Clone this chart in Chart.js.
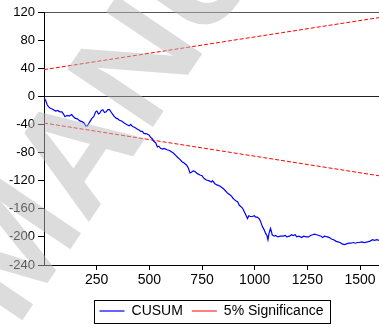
<!DOCTYPE html>
<html>
<head>
<meta charset="utf-8">
<script src="https://cdn.jsdelivr.net/npm/chart.js@4.4.0/dist/chart.umd.min.js"></script>
<style>
  html, body { margin: 0; padding: 0; background: #fff; }
</style>
</head>
<body>
<canvas id="cusumChart" width="379" height="327"></canvas>
<script>
const obs = [0, 8, 15, 22, 30, 38, 45, 55, 65, 75, 85, 92, 100, 110, 120, 131, 140, 147, 158, 170,
  180, 190, 198, 205, 212, 220, 228, 236, 245, 251, 258, 264, 272, 279, 287, 295, 303, 311, 320, 327,
  334, 342, 350, 358, 368, 381, 392, 404, 412, 420, 430, 440, 451, 460, 467, 475, 485, 498, 508, 513,
  521, 530, 538, 545, 553, 562, 570, 584, 595, 605, 615, 625, 635, 646, 655, 665, 677, 685, 693, 700,
  708, 717, 728, 740, 750, 760, 771, 782, 795, 800, 810, 820, 830, 841, 850, 860, 872, 882, 890, 897,
  904, 912, 919, 927, 935, 942, 950, 958, 966, 972, 980, 989, 998, 1005, 1012, 1021, 1028, 1036, 1045, 1052,
  1058, 1063, 1068, 1075, 1080, 1083, 1092, 1100, 1110, 1122, 1135, 1145, 1153, 1165, 1175, 1182, 1192, 1200, 1210, 1223,
  1232, 1245, 1255, 1265, 1275, 1285, 1294, 1305, 1315, 1322, 1332, 1345, 1355, 1364, 1375, 1385, 1395, 1405, 1415, 1426,
  1436, 1447, 1457, 1468, 1478, 1488, 1496, 1508, 1520, 1535, 1548, 1559, 1568, 1580, 1590];
const cusum = [-2, -6, -12, -15, -17, -18, -19, -21, -20, -22, -22, -25, -29, -27, -28, -26, -29, -31, -32, -35,
  -36, -38, -42, -42, -39, -35, -31, -29, -22, -21, -25, -24, -20, -19, -23, -22, -19, -19, -23, -26,
  -29, -31, -32, -34, -35, -38, -40, -42, -40, -43, -44, -46, -48, -50, -50, -53, -53, -55, -59, -60,
  -64, -66, -72, -71, -74, -75, -74, -76, -77, -79, -81, -84, -87, -90, -93, -95, -98, -102, -109, -108,
  -106, -107, -110, -112, -113, -117, -119, -120, -122, -120, -124, -126, -127, -129, -131, -134, -138, -140, -142, -145,
  -147, -149, -150, -155, -157, -159, -164, -169, -174, -170, -171, -171, -170, -172, -172, -174, -178, -185, -190, -195,
  -198, -204, -195, -188, -193, -197, -199, -198, -200, -199, -199, -198, -200, -199, -197, -198, -197, -200, -199, -201,
  -199, -200, -200, -198, -197, -196, -197, -198, -199, -201, -199, -200, -201, -203, -204, -206, -207, -208, -210, -211,
  -210, -209, -209, -208, -209, -208, -208, -207, -208, -207, -206, -204, -205, -204, -205];

// 5% significance bounds (straight lines, two ends)
const sigObs = [0, 1590];
const sigUpper = [38, 112];
const sigLower = [-38, -113];

const xTicks = [250, 500, 750, 1000, 1250, 1500];
const yTicks = [-240, -200, -160, -120, -80, -40, 0, 40, 80, 120];

const toPoints = (xs, ys) => xs.map((x, i) => ({x: x, y: ys[i]}));

// border round the legend
const legendBox = {
  id: 'legendBox',
  afterDraw(chart) {
    const hb = chart.legend.legendHitBoxes;
    if (!hb || !hb.length) return;
    const ctx = chart.ctx;
    const left = Math.min(...hb.map(b => b.left)) - 6;
    const right = Math.max(...hb.map(b => b.left + b.width)) + 6;
    const mid = hb[0].top + hb[0].height / 2;
    ctx.save();
    ctx.strokeStyle = '#000';
    ctx.lineWidth = 1;
    ctx.strokeRect(Math.round(left) + 0.5, Math.round(mid - 11.5) + 0.5, Math.round(right - left), 23);
    ctx.restore();
  }
};

// faint diagonal watermark
const watermark = {
  id: 'watermark',
  afterDraw(chart) {
    const ctx = chart.ctx;
    ctx.save();
    ctx.font = 'bold 150px "Liberation Sans", Arial, sans-serif';
    ctx.fillStyle = 'rgba(185,185,185,0.5)';
    const wMA = ctx.measureText('MA').width;
    ctx.translate(113, 112);
    ctx.rotate(-56 * Math.PI / 180);
    ctx.fillText('MANUSCRIPT', -wMA, 0);
    ctx.restore();
  }
};

const ctx = document.getElementById('cusumChart');

new Chart(ctx, {
  type: 'line',
  data: {
    datasets: [
      {
        label: 'CUSUM',
        data: toPoints(obs, cusum),
        borderColor: '#0000ff',
        borderWidth: 1.2,
        pointRadius: 0,
        tension: 0
      },
      {
        label: '5% Significance',
        data: toPoints(sigObs, sigUpper),
        borderColor: '#ff0000',
        borderWidth: 1,
        borderDash: [4, 2],
        pointRadius: 0
      },
      {
        label: 'lower',
        data: toPoints(sigObs, sigLower),
        borderColor: '#ff0000',
        borderWidth: 1,
        borderDash: [4, 2],
        pointRadius: 0
      }
    ]
  },
  options: {
    responsive: false,
    animation: false,
    layout: { padding: { top: 12, right: -4, bottom: -1, left: 0 } },
    scales: {
      x: {
        type: 'linear',
        min: 0,
        max: 1590,
        afterBuildTicks: s => { s.ticks = xTicks.map(v => ({value: v})); },
        afterFit: s => { s.height = 30; },
        grid: { drawOnChartArea: false, tickLength: 5, tickColor: '#000' },
        border: { color: '#000', width: 1 },
        ticks: {
          color: '#000',
          padding: 2,
          maxRotation: 0,
          callback: v => String(v),
          font: { family: '"Liberation Sans", Arial, sans-serif', size: 14 }
        }
      },
      y: {
        min: -240,
        max: 120,
        afterBuildTicks: s => { s.ticks = yTicks.map(v => ({value: v})); },
        afterFit: s => { s.width = 44; },
        grid: {
          color: c => c.tick.value === 0 ? '#222' : (c.tick.value === 120 ? '#555' : 'rgba(0,0,0,0)'),
          tickLength: 6,
          tickColor: '#000'
        },
        border: { color: '#000', width: 1 },
        ticks: {
          color: '#000',
          padding: 3,
          font: { family: '"Liberation Sans", Arial, sans-serif', size: 13 }
        }
      }
    },
    plugins: {
      tooltip: { enabled: false },
      legend: {
        position: 'bottom',
        fullSize: false,
        labels: {
          usePointStyle: true,
          pointStyle: 'line',
          pointStyleWidth: 25,
          padding: 9,
          color: '#000',
          font: { family: '"Liberation Sans", Arial, sans-serif', size: 14 },
          filter: item => item.text !== 'lower'
        }
      }
    }
  },
  plugins: [legendBox, watermark]
});
</script>
</body>
</html>
